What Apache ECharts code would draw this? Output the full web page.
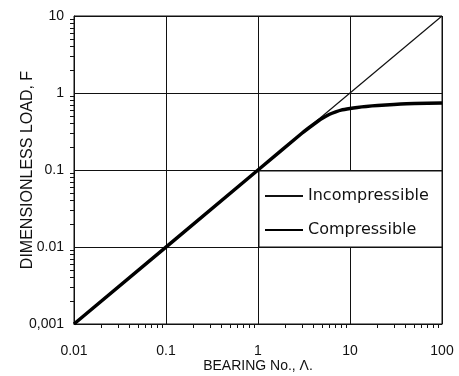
<!DOCTYPE html>
<html>
<head>
<meta charset="utf-8">
<script src="https://cdn.jsdelivr.net/npm/echarts@6/dist/echarts.min.js"></script>
<style>
html, body { margin: 0; padding: 0; background: #fff; }
#chart { width: 459px; height: 376px; }
</style>
</head>
<body>
<div id="chart"></div>
<script>
// bearing number and dimensionless load
var bearingNo = [0.01, 100];
var incompressible = [0.001, 10];
var compBearingNo = [0.01, 1, 3, 4, 5, 6, 7, 8, 10, 12, 15, 20, 30, 50, 100];
var compressible = [0.001, 0.1, 0.3, 0.39, 0.47, 0.53, 0.57, 0.6, 0.63, 0.65, 0.67, 0.69, 0.71, 0.73, 0.74];
var xTickLabels = ['0.01', '0.1', '1', '10', '100'];
var yTickLabels = ['0,001', '0.01', '0.1', '1', '10'];

function pairs(xs, ys) {
    return xs.map(function (x, i) { return [x, ys[i]]; });
}
function tickLabel(list, min) {
    return function (v) {
        var i = Math.round(Math.log10(v) - Math.log10(min));
        return list[i] !== undefined ? list[i] : '';
    };
}

var font = 'Liberation Sans';
var myChart = echarts.init(document.getElementById('chart'));
var option = {
    animation: false,
    textStyle: { fontFamily: font, color: '#111' },
    grid: {
        left: 74,
        right: 17,
        top: 16,
        bottom: 52,
        outerBoundsMode: 'none',
        show: true,
        borderColor: '#111',
        borderWidth: 1
    },
    // white box behind the legend
    graphic: [{
        type: 'rect',
        z: 5,
        shape: { x: 259, y: 171, width: 183, height: 76 },
        style: { fill: '#fff', stroke: '#111', lineWidth: 1 }
    }],
    legend: {
        orient: 'vertical',
        left: 264,
        top: 188,
        z: 6,
        padding: 0,
        itemWidth: 38,
        itemHeight: 14,
        itemGap: 18,
        itemStyle: { opacity: 0 },
        textStyle: { fontSize: 16, color: '#111', fontFamily: 'DejaVu Sans' },
        data: ['Incompressible', 'Compressible']
    },
    xAxis: {
        type: 'log',
        logBase: 10,
        min: 0.01,
        max: 100,
        name: 'BEARING No., \u039B.',
        nameLocation: 'middle',
        nameGap: 35,
        nameMoveOverlap: false,
        nameTextStyle: { fontSize: 14, color: '#111' },
        axisLine: { lineStyle: { color: '#111' } },
        axisTick: { show: false },
        minorTick: { show: true, splitNumber: 9, length: 4, lineStyle: { color: '#111' } },
        axisLabel: { fontSize: 14, color: '#111', margin: 20, formatter: tickLabel(xTickLabels, 0.01) },
        splitLine: { show: true, lineStyle: { color: '#111', width: 1 } }
    },
    yAxis: {
        type: 'log',
        logBase: 10,
        min: 0.001,
        max: 10,
        name: 'DIMENSIONLESS LOAD, F',
        nameLocation: 'middle',
        nameGap: 38,
        nameMoveOverlap: false,
        nameTextStyle: { fontSize: 16, color: '#111' },
        axisLine: { lineStyle: { color: '#111' } },
        axisTick: { show: false },
        minorTick: { show: true, splitNumber: 9, length: 4, lineStyle: { color: '#111' } },
        axisLabel: { fontSize: 14, color: '#111', margin: 10, formatter: tickLabel(yTickLabels, 0.001) },
        splitLine: { show: true, lineStyle: { color: '#111', width: 1 } }
    },
    series: [
        {
            name: 'Incompressible',
            type: 'line',
            symbol: 'none',
            z: 3,
            lineStyle: { color: '#111', width: 1.2 },
            itemStyle: { color: '#111' },
            data: pairs(bearingNo, incompressible)
        },
        {
            name: 'Compressible',
            type: 'line',
            symbol: 'none',
            smooth: 0.2,
            z: 4,
            lineStyle: { color: '#000', width: 3.5 },
            itemStyle: { color: '#000' },
            data: pairs(compBearingNo, compressible)
        }
    ]
};
myChart.setOption(option);
</script>
</body>
</html>
